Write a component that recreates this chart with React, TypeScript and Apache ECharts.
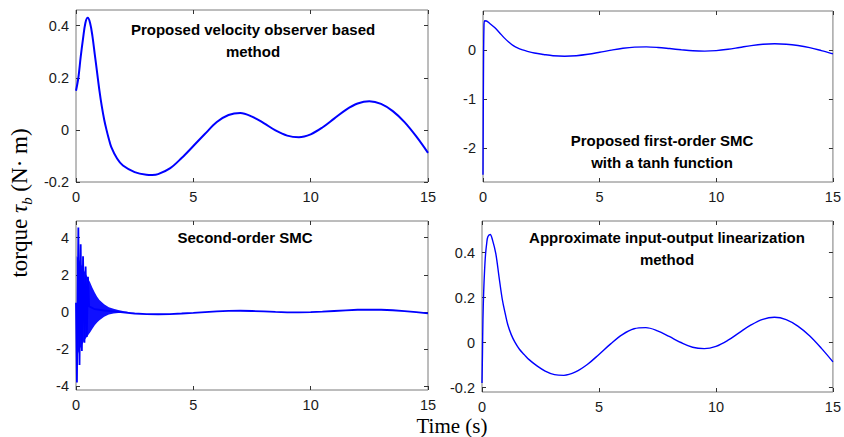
import React, { useEffect, useRef } from "react";
import * as echarts from "echarts";

// ---------- data ----------
const xTicks = [0, 5, 10, 15];

// Panel 1: proposed velocity observer based method
const t1 = [0, 0.1, 0.2, 0.3, 0.4, 0.5, 0.6, 0.7, 0.8, 0.9, 1.0, 1.1, 1.2, 1.3, 1.4, 1.5, 1.75, 2.0, 2.5, 3.0, 3.25, 3.5, 4.0, 4.5, 5.0, 5.5, 6.0, 6.5, 7.0, 7.5, 8.0, 8.5, 9.0, 9.5, 10.0, 10.5, 11.0, 11.5, 12.0, 12.5, 13.0, 13.5, 14.0, 14.5, 15.0];
const v1 = [0.15, 0.2, 0.28, 0.35, 0.41, 0.43, 0.41, 0.36, 0.29, 0.22, 0.15, 0.09, 0.04, 0.0, -0.035, -0.065, -0.11, -0.137, -0.162, -0.172, -0.173, -0.17, -0.148, -0.108, -0.062, -0.015, 0.03, 0.057, 0.065, 0.051, 0.026, -0.002, -0.022, -0.028, -0.017, 0.009, 0.043, 0.077, 0.101, 0.11, 0.1, 0.072, 0.03, -0.025, -0.088];
const y1Ticks = [-0.2, 0, 0.2, 0.4];
const y1Range = [-0.2, 0.46];

// Panel 2: proposed first-order SMC with a tanh function
const t2 = [0, 0.02, 0.04, 0.07, 0.15, 0.3, 0.5, 0.7, 0.9, 1.1, 1.3, 1.5, 1.7, 1.9, 2.2, 2.6, 3.0, 3.5, 4.0, 4.5, 5.0, 5.5, 6.0, 6.5, 7.0, 7.5, 8.0, 8.5, 9.0, 9.5, 10.0, 10.5, 11.0, 11.5, 12.0, 12.5, 13.0, 13.5, 14.0, 14.5, 15.0];
const v2 = [-2.55, -0.5, 0.45, 0.6, 0.595, 0.54, 0.46, 0.36, 0.255, 0.165, 0.09, 0.04, 0.005, -0.025, -0.06, -0.09, -0.115, -0.125, -0.115, -0.086, -0.045, -0.001, 0.037, 0.061, 0.066, 0.054, 0.031, 0.006, -0.015, -0.022, -0.012, 0.016, 0.054, 0.092, 0.12, 0.13, 0.12, 0.093, 0.05, -0.01, -0.076];
const y2Ticks = [-2, -1, 0];
const y2Range = [-2.7, 0.8];

// Panel 3: second-order SMC (spikes + chattering band + tail)
const t3 = [0, 0.04, 0.1, 0.15, 0.2, 0.25, 0.3, 0.36, 0.41, 0.46, 0.51, 0.56, 0.8, 1.2, 1.6, 2.0, 2.5, 3.0, 3.5, 4.0, 4.5, 5.0, 5.5, 6.0, 6.5, 7.0, 7.5, 8.0, 8.5, 9.0, 9.5, 10.0, 10.5, 11.0, 11.5, 12.0, 12.5, 13.0, 13.5, 14.0, 14.5, 15.0];
const v3 = [0.5, -3.8, 4.55, -2.85, 3.65, -2.1, 3.0, -1.65, 2.45, -1.35, 1.9, 0.3, 0.15, 0.08, 0.03, -0.02, -0.08, -0.11, -0.12, -0.11, -0.08, -0.045, -0.005, 0.035, 0.06, 0.066, 0.054, 0.031, 0.006, -0.015, -0.022, -0.012, 0.016, 0.054, 0.092, 0.12, 0.13, 0.12, 0.093, 0.05, -0.01, -0.076];
const band3T = [0.03, 0.1, 0.2, 0.3, 0.4, 0.5, 0.6, 0.7, 0.8, 0.9, 1.0, 1.2, 1.4, 1.6, 1.8, 2.0, 2.2];
const band3Upper = [3.0, 2.9, 2.6, 2.35, 2.1, 1.85, 1.6, 1.3, 1.05, 0.82, 0.65, 0.42, 0.26, 0.17, 0.11, 0.06, 0.02];
const band3Lower = [-2.5, -2.2, -1.9, -1.65, -1.45, -1.28, -1.1, -0.9, -0.72, -0.56, -0.44, -0.26, -0.14, -0.08, -0.05, -0.04, -0.04];
const y3Ticks = [-4, -2, 0, 2, 4];
const y3Range = [-4.2, 4.9];

// Panel 4: approximate input-output linearization method
const t4 = [0, 0.02, 0.04, 0.07, 0.11, 0.15, 0.2, 0.25, 0.35, 0.45, 0.59, 0.73, 0.87, 1.0, 1.1, 1.25, 1.4, 1.6, 1.8, 2.0, 2.35, 2.7, 3.1, 3.5, 4.0, 4.5, 5.0, 5.5, 6.0, 6.5, 7.0, 7.5, 8.0, 8.5, 9.0, 9.5, 10.0, 10.5, 11.0, 11.5, 12.0, 12.5, 13.0, 13.5, 14.0, 14.5, 15.0];
const v4 = [-0.18, -0.05, 0.1, 0.22, 0.32, 0.39, 0.44, 0.47, 0.48, 0.455, 0.395, 0.29, 0.19, 0.125, 0.08, 0.035, 0.003, -0.03, -0.053, -0.075, -0.104, -0.127, -0.143, -0.146, -0.131, -0.098, -0.053, -0.006, 0.035, 0.061, 0.066, 0.052, 0.027, 0.0, -0.021, -0.027, -0.017, 0.009, 0.044, 0.078, 0.103, 0.112, 0.102, 0.073, 0.03, -0.025, -0.086];
const y4Ticks = [-0.2, 0, 0.2, 0.4];
const y4Range = [-0.22, 0.54];

const panelTitles = [
  "Proposed velocity observer based\nmethod",
  "Proposed first-order SMC\nwith a tanh function",
  "Second-order SMC",
  "Approximate input-output linearization\nmethod",
];

// ---------- layout ----------
const grids = [
  { left: 76, top: 10, width: 352, height: 172 },
  { left: 483, top: 11, width: 356, height: 171 },
  { left: 76, top: 221, width: 352, height: 169 },
  { left: 482, top: 221, width: 356, height: 171 },
];
const titlePos = [
  { x: 253, y: 40 },
  { x: 662, y: 151 },
  { x: 245, y: 237 },
  { x: 667, y: 248 },
];

const SANS = "Liberation Sans, Arial, Helvetica, sans-serif";
const SERIF = "Liberation Serif, DejaVu Serif, serif";
const BLUE = "#0000ff";

function zip(t: number[], v: number[]) {
  return t.map((x, i) => [x, v[i]]);
}

export default function App() {
  const ref = useRef<HTMLDivElement>(null);
  useEffect(() => {
    if (!ref.current) return;
    const chart = echarts.init(ref.current, undefined, { renderer: "svg" });
    const yTicksAll = [y1Ticks, y2Ticks, y3Ticks, y4Ticks];
    const yRanges = [y1Range, y2Range, y3Range, y4Range];

    const tickStyle = { inside: true, length: 4, lineStyle: { color: "#333", width: 1 } };
    const hiddenLine = { show: false, onZero: false };
    const labelStyle = { color: "#1a1a1a", fontSize: 14.5, fontFamily: SANS };
    const xAxis: any[] = [];
    const yAxis: any[] = [];
    grids.forEach((_, i) => {
      xAxis.push({
        type: "value", gridIndex: i, min: 0, max: 15, interval: 5, position: "bottom",
        axisLine: hiddenLine, splitLine: { show: false },
        axisTick: { ...tickStyle, customValues: xTicks },
        axisLabel: { ...labelStyle, customValues: xTicks, margin: 7 },
      });
      xAxis.push({
        type: "value", gridIndex: i, min: 0, max: 15, interval: 5, position: "top",
        axisLine: hiddenLine, splitLine: { show: false },
        axisTick: { ...tickStyle, customValues: xTicks },
        axisLabel: { show: false },
      });
      yAxis.push({
        type: "value", gridIndex: i, min: yRanges[i][0], max: yRanges[i][1], position: "left",
        axisLine: hiddenLine, splitLine: { show: false },
        axisTick: { ...tickStyle, customValues: yTicksAll[i] },
        axisLabel: { ...labelStyle, customValues: yTicksAll[i], margin: 7, formatter: (v: number) => String(v) },
      });
      yAxis.push({
        type: "value", gridIndex: i, min: yRanges[i][0], max: yRanges[i][1], position: "right",
        axisLine: hiddenLine, splitLine: { show: false },
        axisTick: { ...tickStyle, customValues: yTicksAll[i] },
        axisLabel: { show: false },
      });
    });

    const lineSeries = (i: number, data: number[][], width: number, smooth: number | boolean) => ({
      type: "line", xAxisIndex: 2 * i, yAxisIndex: 2 * i, data, showSymbol: false, symbol: "none",
      smooth, clip: true, silent: true,
      lineStyle: { color: BLUE, width },
    });

    const option: any = {
      animation: false,
      grid: grids.map((g) => ({ ...g, show: true, borderColor: "#7a7a7a", borderWidth: 1, backgroundColor: "transparent" })),
      xAxis,
      yAxis,
      series: [
        lineSeries(0, zip(t1, v1), 2, 0.35),
        lineSeries(1, zip(t2, v2), 1.4, 0.35),
        {
          type: "custom", xAxisIndex: 4, yAxisIndex: 4, data: [[0, 0]], silent: true, clip: true,
          renderItem: (_p: any, api: any) => {
            const pts: number[][] = [];
            for (let k = 0; k < band3T.length; k++) pts.push(api.coord([band3T[k], band3Upper[k]]));
            for (let k = band3T.length - 1; k >= 0; k--) pts.push(api.coord([band3T[k], band3Lower[k]]));
            return { type: "polygon", shape: { points: pts }, style: { fill: "#1010ff", stroke: "none" } };
          },
        },
        lineSeries(2, zip(t3, v3), 1.8, false),
        lineSeries(3, zip(t4, v4), 1.4, 0.35),
      ],
      graphic: [
        ...panelTitles.map((txt, i) => ({
          type: "text", x: titlePos[i].x, y: titlePos[i].y, silent: true,
          style: {
            text: txt, fontSize: 15, fontWeight: "bold", fontFamily: SANS, fill: "#000",
            align: "center", verticalAlign: "middle", lineHeight: 22,
          },
        })),
        {
          type: "text", x: 19, y: 203, rotation: Math.PI / 2, silent: true,
          style: {
            text: "{n|torque }{i|τ}{s|b}{n| (N· m)}",
            align: "center", verticalAlign: "middle", fill: "#000",
            rich: {
              n: { fontSize: 23, fontFamily: SERIF, lineHeight: 30, fill: "#000" },
              i: { fontSize: 23, fontFamily: SERIF, fontStyle: "italic", lineHeight: 30, fill: "#000" },
              s: { fontSize: 15, fontFamily: SERIF, fontStyle: "italic", lineHeight: 15, verticalAlign: "bottom", fill: "#000" },
            },
          },
        },
        {
          type: "text", x: 452, y: 426, silent: true,
          style: { text: "Time (s)", fontSize: 21, lineHeight: 21, fontFamily: SERIF, fill: "#000", align: "center", verticalAlign: "middle" },
        },
      ],
    };
    chart.setOption(option);
    return () => chart.dispose();
  }, []);
  return (
    <div
      ref={ref}
      style={{ position: "absolute", left: 0, top: 0, width: 844, height: 437, background: "#fff" }}
    />
  );
}
